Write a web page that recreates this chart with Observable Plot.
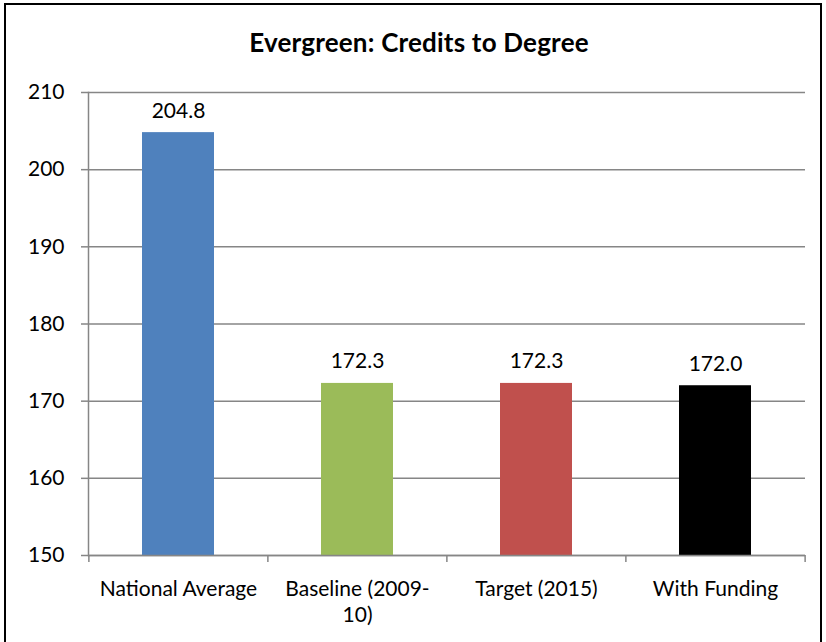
<!DOCTYPE html>
<html>
<head>
<meta charset="utf-8">
<script src="https://cdn.jsdelivr.net/npm/d3@7"></script>
<script src="https://cdn.jsdelivr.net/npm/@observablehq/plot@0.6"></script>
<style>
  body { margin: 0; background: #fff; }
  #wrap { position: relative; width: 826px; height: 642px; overflow: hidden; font-family: Lato, "Liberation Sans", sans-serif; background: #fff; }
  #frame { position: absolute; left: 4px; top: 3px; width: 818px; height: 680px; border: 2px solid #000; box-sizing: border-box; pointer-events: none; }
  #title { position: absolute; left: 6px; width: 826px; top: 27px; line-height: 30px; text-align: center; font-weight: bold; font-size: 26px; color: #000; letter-spacing: 0.2px; }
  #chart { position: absolute; left: 0; top: 0; }
</style>
</head>
<body>
<div id="wrap">
  <div id="chart"></div>
  <div id="frame"></div>
  <div id="title">Evergreen: Credits to Degree</div>
</div>
<script>
const categories = ["National Average", "Baseline (2009-10)", "Target (2015)", "With Funding"];
const tickLabels = ["National Average", "Baseline (2009-\n10)", "Target (2015)", "With Funding"];
const values = [204.8, 172.3, 172.3, 172.0];
const valueLabels = ["204.8", "172.3", "172.3", "172.0"];
const colors = ["#4F81BD", "#9BBB59", "#C0504D", "#000000"];
const yTicks = [150, 160, 170, 180, 190, 200, 210];
const yDomain = [150, 210];

const data = categories.map((c, i) => ({cat: c, value: values[i], label: valueLabels[i]}));

const W = 826, H = 642, ML = 88, MR = 21, MT = 92, MB = 87;
const half = (W - ML - MR) / categories.length / 2;
const gray = "#868686";
const fs = 21;

const chart = Plot.plot({
  width: W,
  height: H,
  marginLeft: ML,
  marginRight: MR,
  marginTop: MT,
  marginBottom: MB,
  style: { fontFamily: "Lato, 'Liberation Sans', sans-serif", background: "transparent", color: "#000" },
  x: { type: "band", domain: categories, paddingInner: 0.6, paddingOuter: 0.3, axis: null, label: null },
  y: { domain: yDomain, axis: null, label: null },
  color: { domain: categories, range: colors },
  marks: [
    Plot.gridY(yTicks, { stroke: gray, strokeOpacity: 1, strokeWidth: 1.5 }),
    Plot.barY(data, { x: "cat", y1: () => yDomain[0], y2: "value", fill: "cat" }),
    Plot.frame({ anchor: "left", stroke: gray, strokeWidth: 1.5 }),
    Plot.ruleY([yDomain[0]], { stroke: gray, strokeWidth: 1.5 }),
    Plot.axisY({ ticks: yTicks, label: null, tickSize: 7, tickPadding: 17, stroke: gray, strokeWidth: 1.5, fontSize: fs, fill: "#000", tickFormat: d => String(d) }),
    Plot.axisX({ ticks: categories, label: null, tickSize: 7, tickFormat: () => "", stroke: gray, strokeWidth: 1.5, dx: -half }),
    Plot.axisX({ ticks: [categories[categories.length - 1]], label: null, tickSize: 7, tickFormat: () => "", stroke: gray, strokeWidth: 1.5, dx: half }),
    Plot.axisX({ ticks: categories, label: null, tickSize: 0, tickPadding: 23, fontSize: fs, fill: "#000", lineHeight: 1.2, tickFormat: d => tickLabels[categories.indexOf(d)] }),
    Plot.text(data, { x: "cat", y: "value", text: "label", dy: -15, lineAnchor: "bottom", fontSize: fs, fill: "#000" })
  ]
});
document.getElementById("chart").appendChild(chart);
</script>
</body>
</html>
